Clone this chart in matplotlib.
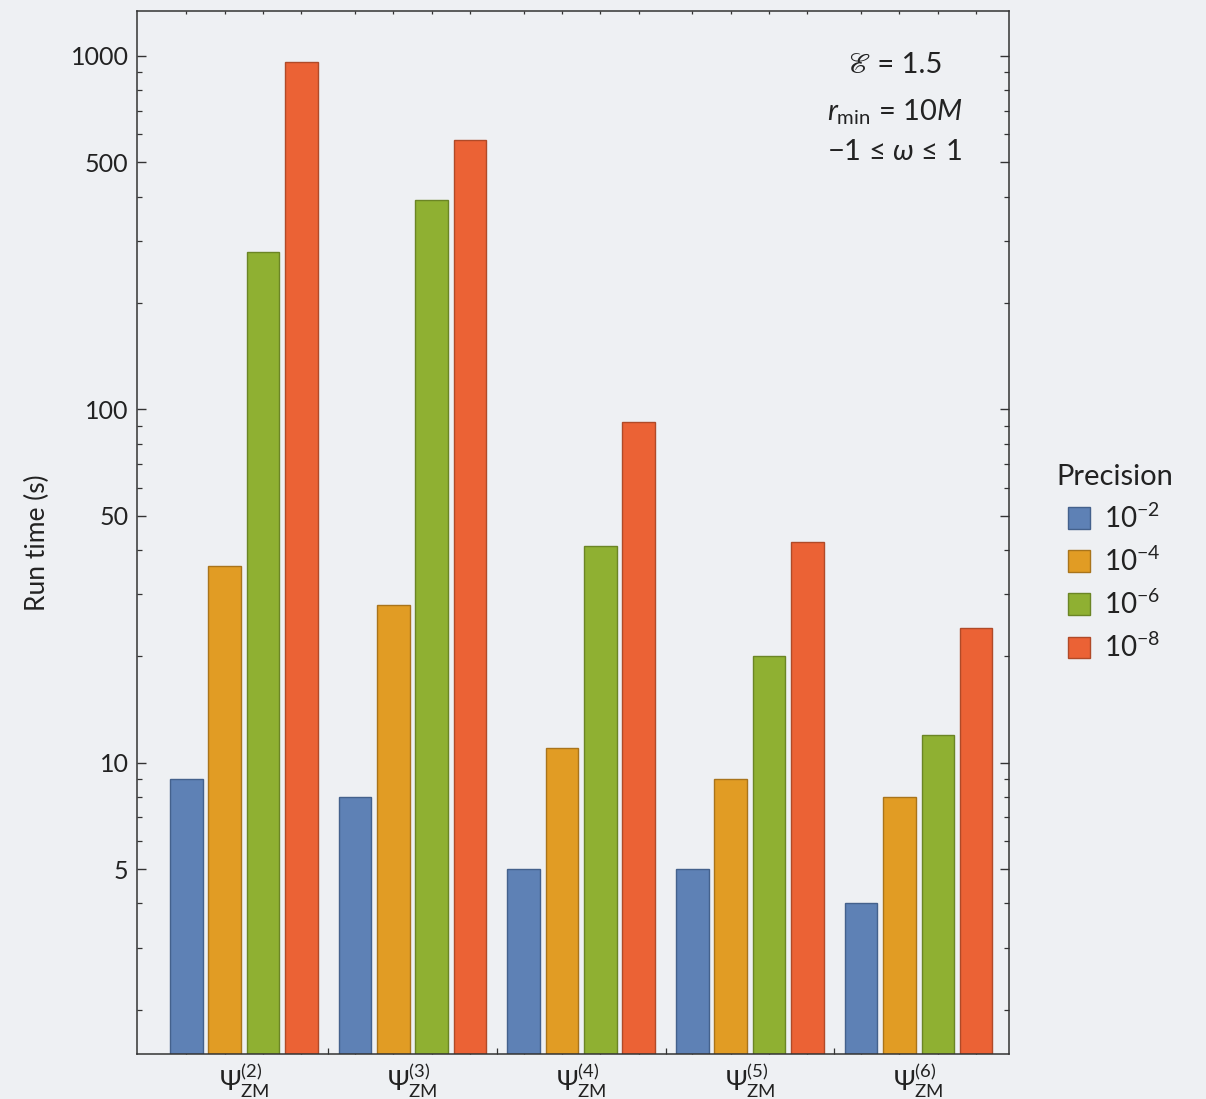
import numpy as np
import matplotlib
matplotlib.use("Agg")
import matplotlib.pyplot as plt
from matplotlib.patches import Patch
from matplotlib.ticker import FixedLocator, NullFormatter, FixedFormatter

plt.rcParams['font.family'] = ['Lato', 'DejaVu Sans']
plt.rcParams['mathtext.fontset'] = 'custom'
plt.rcParams['mathtext.rm'] = 'Lato'
plt.rcParams['mathtext.it'] = 'Lato:italic'
plt.rcParams['mathtext.bf'] = 'Lato:bold'
plt.rcParams['mathtext.fallback'] = 'stixsans'

# ---- data ----
groups = [r"$\Psi^{(2)}_{\mathrm{ZM}}$", r"$\Psi^{(3)}_{\mathrm{ZM}}$", r"$\Psi^{(4)}_{\mathrm{ZM}}$",
          r"$\Psi^{(5)}_{\mathrm{ZM}}$", r"$\Psi^{(6)}_{\mathrm{ZM}}$"]
precisions = [r"$10^{-2}$", r"$10^{-4}$", r"$10^{-6}$", r"$10^{-8}$"]
prec_1e2 = [9.0, 8.0, 5.0, 5.0, 4.0]
prec_1e4 = [36.0, 28.0, 11.0, 9.0, 8.0]
prec_1e6 = [278.0, 390.0, 41.0, 20.0, 12.0]
prec_1e8 = [960.0, 580.0, 92.0, 42.0, 24.0]
series = [prec_1e2, prec_1e4, prec_1e6, prec_1e8]
colors = ["#5e81b5", "#e19c24", "#8fb032", "#eb6235"]
edges = ["#44618c", "#a9741b", "#6b8525", "#b04a28"]
major_y = [5, 10, 50, 100, 500, 1000]

bg = "#eef0f3"
txt = "#222222"

fig = plt.figure(figsize=(12.06, 10.99), dpi=100, facecolor=bg)
ax = fig.add_axes([0.1136, 0.041, 0.7231, 0.949])
ax.set_facecolor(bg)

x = np.arange(1, len(groups) + 1)
pitch = 0.227
width = 0.193
centers = []
for i, (vals, c, ec) in enumerate(zip(series, colors, edges)):
    off = (i - 1.5) * pitch
    ax.bar(x + off, vals, width=width, bottom=0, color=c, edgecolor=ec, linewidth=1.0,
           label=precisions[i], zorder=2)
    centers.extend(list(x + off))

ax.set_yscale('log')
ax.set_ylim(1.5, 1340)
ax.set_xlim(0.367, 5.536)

ax.yaxis.set_major_locator(FixedLocator(major_y))
ax.yaxis.set_major_formatter(FixedFormatter([str(v) for v in major_y]))
minor_y = [v * d for d in [1, 10, 100] for v in [2, 3, 4, 6, 7, 8, 9]]
ax.yaxis.set_minor_locator(FixedLocator(minor_y))
ax.yaxis.set_minor_formatter(NullFormatter())
ax.tick_params(axis='y', which='major', direction='in', length=6.5, width=1.0, color='#333333',
               right=True, labelsize=18, labelcolor=txt, pad=6)
ax.tick_params(axis='y', which='minor', direction='in', length=3.5, width=0.9, color='#333333', right=True)

ax.set_xticks(x)
ax.set_xticklabels(groups)
ax.xaxis.set_minor_locator(FixedLocator(sorted(centers)))
ax.tick_params(axis='x', which='major', length=0, labelsize=19, labelcolor=txt, pad=5)
ax.tick_params(axis='x', which='minor', direction='in', length=2.5, width=0.9, color='#333333', top=True)

sec = ax.secondary_xaxis('bottom')
sec.set_xticks((x[:-1] + x[1:]) / 2)
sec.set_xticklabels([])
sec.tick_params(direction='in', length=4.5, width=0.9, color='#333333')
sec.spines['bottom'].set_visible(False)

for s in ax.spines.values():
    s.set_color('#333333')
    s.set_linewidth(1.1)

ax.set_ylabel("Run time (s)", fontsize=19, color=txt)
ax.yaxis.set_label_coords(-0.100, 0.49)

ax.text(0.869, 0.948, "ℰ = 1.5", transform=ax.transAxes, ha='center', va='center', fontsize=21,
        color=txt, family=['Lato', 'STIXGeneral', 'DejaVu Sans'])
ax.text(0.869, 0.903, r"$\mathit{r}_{\mathrm{min}}$ = 10$\mathit{M}$", transform=ax.transAxes,
        ha='center', va='center', fontsize=21, color=txt)
ax.text(0.869, 0.865, r"−1 ≤ $\mathit{\omega}$ ≤ 1", transform=ax.transAxes,
        ha='center', va='center', fontsize=21, color=txt, family=['Lato', 'DejaVu Sans'])

handles = [Patch(facecolor=c, edgecolor=ec, linewidth=1.0) for c, ec in zip(colors, edges)]
leg = fig.legend(handles, precisions, loc='upper left', bbox_to_anchor=(0.855, 0.601),
                 frameon=False, fontsize=20, title='Precision', title_fontsize=21,
                 handlelength=0.8, handleheight=0.8, handletextpad=0.5, labelspacing=0.5)
for t in leg.get_texts():
    t.set_color(txt)
leg.get_title().set_color(txt)

fig.savefig("out.png", dpi=100, facecolor=bg)
